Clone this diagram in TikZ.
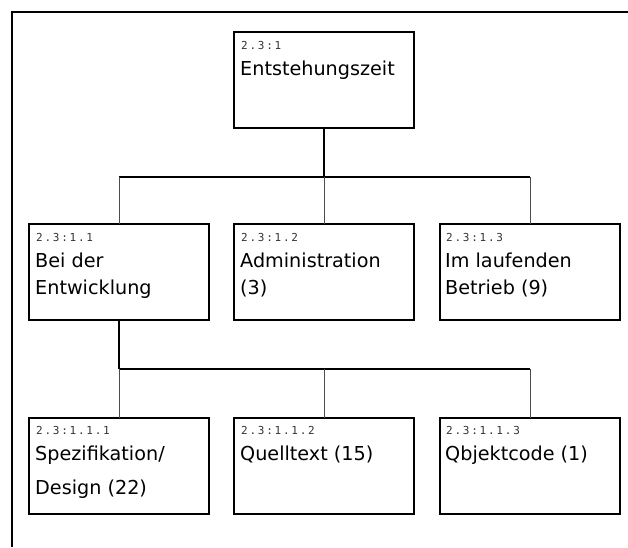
\documentclass[tikz,border=0pt]{standalone}
\usepackage{fontspec}
\setmainfont{DejaVu Sans}
\newfontfamily\codefont[LetterSpace=16]{DejaVu Sans Mono}
\begin{document}
\begin{tikzpicture}[x=1pt,y=-1pt,
  box/.style={draw=black,line width=2.6pt,minimum width=180pt,minimum height=96pt,
    inner sep=0pt,outer sep=0pt,anchor=north west},
  code/.style={anchor=base west,inner sep=0pt,text=black!80,font=\codefont\fontsize{11}{12}\selectfont},
  title/.style={anchor=base west,inner sep=0pt,font=\fontsize{19.2}{22}\selectfont},
  trunk/.style={draw=black,line width=1.4pt},
  branch/.style={draw=black!70,line width=1pt}]
\useasboundingbox (0,0) rectangle (628,547);
% page frame
\draw[line width=2.6pt] (12,547) -- (12,12) -- (628,12);

% boxes
\node[box] (root) at (234,32) {};
\node[box] (a1) at (29,224) {};
\node[box] (a2) at (234,224) {};
\node[box] (a3) at (440,224) {};
\node[box] (b1) at (29,418) {};
\node[box] (b2) at (234,418) {};
\node[box] (b3) at (440,418) {};

% numbers and titles
\node[code]  (rootc) at (241,49) {2.3:1};
\node[title] (roott) at (240,75) {Entstehungszeit};

\node[code]  (a1c) at (36,241) {2.3:1.1};
\node[title] (a1t) at (35,267) {Bei der};
\node[title] (a1u) at (35,294) {Entwicklung};
\node[code]  (a2c) at (241,241) {2.3:1.2};
\node[title] (a2t) at (240,267) {Administration};
\node[title] (a2u) at (240,294) {(3)};
\node[code]  (a3c) at (446,241) {2.3:1.3};
\node[title] (a3t) at (445,267) {Im laufenden};
\node[title] (a3u) at (445,294) {Betrieb (9)};

\node[code]  (b1c) at (36,434) {2.3:1.1.1};
\node[title] (b1t) at (35,460) {Spezifikation/};
\node[title] (b1u) at (35,494) {Design (22)};
\node[code]  (b2c) at (241,434) {2.3:1.1.2};
\node[title] (b2t) at (240,460) {Quelltext (15)};
\node[code]  (b3c) at (446,434) {2.3:1.1.3};
\node[title] (b3t) at (445,460) {Qbjektcode (1)};

% connectors
\coordinate (j1) at (324,177);
\coordinate (j2) at (120,369);
\draw[trunk] (root.south) -- (root.south |- j1);
\draw[trunk] (a1.north |- j1) -- (a3.north |- j1);
\draw[branch] (a1.north |- j1) -- (a1.north);
\draw[branch] (a2.north |- j1) -- (a2.north);
\draw[branch] (a3.north |- j1) -- (a3.north);

\draw[trunk] (a1.south) -- (a1.south |- j2);
\draw[trunk] (b1.north |- j2) -- (b3.north |- j2);
\draw[branch] (b1.north |- j2) -- (b1.north);
\draw[branch] (b2.north |- j2) -- (b2.north);
\draw[branch] (b3.north |- j2) -- (b3.north);
\end{tikzpicture}
\end{document}
